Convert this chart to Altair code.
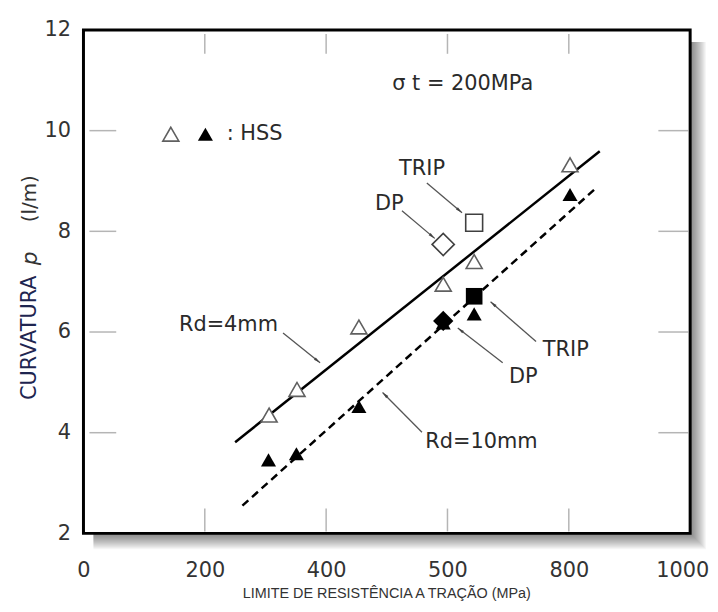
import math
import altair as alt
import pandas as pd

# ---------------- data ----------------
# HSS, Rd = 4 mm (open triangles)
open_tri_x = [306, 352, 454, 593, 644, 802]
open_tri_y = [4.35, 4.86, 6.10, 6.95, 7.40, 9.32]
# HSS, Rd = 10 mm (filled triangles)
filled_tri_x = [305, 351, 454, 593, 644, 802]
filled_tri_y = [3.46, 3.58, 4.52, 6.18, 6.36, 8.73]
# DP / TRIP, Rd = 4 mm (open) and Rd = 10 mm (filled)
dp_open = (593, 7.74)
trip_open = (644, 8.17)
dp_filled = (593, 6.22)
trip_filled = (644, 6.71)
# fitted lines
rd4_x = [250, 851]
rd4_y = [3.81, 9.59]
rd10_x = [262, 843]
rd10_y = [2.55, 8.84]

# annotations: label, text position, arrow start, arrow end
ann_labels = ["TRIP", "DP", "Rd=4mm", "TRIP", "DP", "Rd=10mm"]
ann_text_x = [558, 504, 239, 795, 725, 656]
ann_text_y = [9.24, 8.55, 6.14, 5.65, 5.10, 3.81]
arr_x1 = [566, 525, 329, 746, 691, 558]
arr_y1 = [8.96, 8.41, 5.98, 5.81, 5.39, 4.01]
arr_x2 = [624, 579, 390, 671, 617, 493]
arr_y2 = [8.37, 7.86, 5.39, 6.60, 6.08, 4.80]

x_tick_values = [0, 200, 400, 600, 800, 1000]
x_tick_labels = ["0", "200", "400", "500", "800", "1000"]
y_tick_values = [2, 4, 6, 8, 10, 12]
inner_x_ticks = [200, 400, 600, 800]
inner_y_ticks = [4, 6, 8, 10]

x_title = "LIMITE DE RESISTÊNCIA A TRAÇÃO (MPa)"
y_title_parts = ["CURVATURA", "p", "(l/m)"]
sigma_text = "σ t = 200MPa"
hss_text = ": HSS"

# ---------------- chart ----------------
W, H = 611, 507
X_DOM, Y_DOM = [0, 1000], [2, 12]
FONT = "DejaVu Sans"
TXT = "#2a2a2a"

xs = alt.Scale(domain=X_DOM, nice=False, zero=False)
ys = alt.Scale(domain=Y_DOM, nice=False, zero=False)

label_expr = " : ".join(
    f"datum.value == {v} ? '{l}'" for v, l in zip(x_tick_values, x_tick_labels)
) + " : datum.label"

x_axis = alt.Axis(values=x_tick_values, labelExpr=label_expr, domain=False, ticks=False,
                  grid=False, title=None, labelFont=FONT, labelFontSize=21,
                  labelColor="#333333", labelPadding=26, labelFlush=False, labelBound=False,
                  labelOverlap=False,
                  labelOffset={"condition": {"test": "datum.value == 1000", "value": -8}, "value": 0})
y_axis = alt.Axis(values=y_tick_values, domain=False, ticks=False, grid=False, title=None,
                  labelFont=FONT, labelFontSize=21, labelColor="#333333", labelPadding=13,
                  labelFlush=False, labelOverlap=False)

def X(f):
    return alt.X(f, type="quantitative", scale=xs, axis=x_axis)

def Y(f):
    return alt.Y(f, type="quantitative", scale=ys, axis=y_axis)

one = pd.DataFrame({"d": [0]})
layers = []

# drop shadow of the frame
for k in range(1, 17):
    layers.append(alt.Chart(one).mark_rect(color="black", opacity=0.035).encode(
        x=alt.value(10), x2=alt.value(W + k), y=alt.value(12), y2=alt.value(H + k)))
# white plot area
layers.append(alt.Chart(one).mark_rect(color="white").encode(
    x=alt.value(0), x2=alt.value(W), y=alt.value(0), y2=alt.value(H)))

# inward ticks
ytk = pd.DataFrame({"y": inner_y_ticks})
xtk = pd.DataFrame({"x": inner_x_ticks})
tick_style = dict(color="#b5b5b5", strokeWidth=1.5)
layers.append(alt.Chart(ytk).mark_rule(**tick_style).encode(y=Y("y"), x=alt.value(6), x2=alt.value(33)))
layers.append(alt.Chart(ytk).mark_rule(**tick_style).encode(y=Y("y"), x=alt.value(579), x2=alt.value(609)))
layers.append(alt.Chart(xtk).mark_rule(**tick_style).encode(x=X("x"), y=alt.value(4), y2=alt.value(24)))
layers.append(alt.Chart(xtk).mark_rule(**tick_style).encode(x=X("x"), y=alt.value(482), y2=alt.value(505)))

# fitted lines
l4 = pd.DataFrame({"x": rd4_x, "y": rd4_y})
l10 = pd.DataFrame({"x": rd10_x, "y": rd10_y})
layers.append(alt.Chart(l4).mark_line(color="black", strokeWidth=2.5).encode(x=X("x"), y=Y("y")))
layers.append(alt.Chart(l10).mark_line(color="black", strokeWidth=2.5, strokeDash=[8, 5]).encode(x=X("x"), y=Y("y")))

# arrows
sx = W / (X_DOM[1] - X_DOM[0])
sy = H / (Y_DOM[1] - Y_DOM[0])
angs = []
for a, b, c, d in zip(arr_x1, arr_y1, arr_x2, arr_y2):
    dx = (c - a) * sx
    dy = -(d - b) * sy
    angs.append(math.degrees(math.atan2(dx, -dy)) % 360)
arr = pd.DataFrame({"x1": arr_x1, "y1": arr_y1, "x2": arr_x2, "y2": arr_y2, "ang": angs})
layers.append(alt.Chart(arr).mark_rule(color="#555555", strokeWidth=1.3).encode(
    x=X("x1"), y=Y("y1"), x2="x2", y2="y2"))
layers.append(alt.Chart(arr).mark_point(shape="M0,0L-0.45,2L0.45,2Z", filled=True, color="#444444",
                                        size=45, opacity=1).encode(
    x=X("x2"), y=Y("y2"), angle=alt.Angle("ang:Q", scale=None)))

# data points
ot = pd.DataFrame({"x": open_tri_x, "y": open_tri_y})
ft = pd.DataFrame({"x": filled_tri_x, "y": filled_tri_y})
layers.append(alt.Chart(ft).mark_point(shape="triangle-up", filled=True, color="black", size=230,
                                       opacity=1).encode(x=X("x"), y=Y("y")))
layers.append(alt.Chart(ot).mark_point(shape="triangle-up", fill="white", stroke="#606060",
                                       strokeWidth=1.6, size=260, opacity=1, fillOpacity=1).encode(
    x=X("x"), y=Y("y")))
od = pd.DataFrame({"x": [dp_open[0]], "y": [dp_open[1]]})
os_ = pd.DataFrame({"x": [trip_open[0]], "y": [trip_open[1]]})
fd = pd.DataFrame({"x": [dp_filled[0]], "y": [dp_filled[1]]})
fs = pd.DataFrame({"x": [trip_filled[0]], "y": [trip_filled[1]]})
layers.append(alt.Chart(od).mark_point(shape="diamond", fill="white", stroke="#404040", strokeWidth=1.6,
                                       size=500, opacity=1, fillOpacity=1).encode(x=X("x"), y=Y("y")))
layers.append(alt.Chart(os_).mark_point(shape="square", fill="white", stroke="#404040", strokeWidth=1.6,
                                        size=290, opacity=1, fillOpacity=1).encode(x=X("x"), y=Y("y")))
layers.append(alt.Chart(fd).mark_point(shape="diamond", filled=True, color="black", size=420,
                                       opacity=1).encode(x=X("x"), y=Y("y")))
layers.append(alt.Chart(fs).mark_point(shape="square", filled=True, color="black", size=280,
                                       opacity=1).encode(x=X("x"), y=Y("y")))

# annotation labels
ann = pd.DataFrame({"x": ann_text_x, "y": ann_text_y, "t": ann_labels})
layers.append(alt.Chart(ann).mark_text(font=FONT, fontSize=21, color=TXT).encode(
    x=X("x"), y=Y("y"), text="t:N"))

# sigma note
layers.append(alt.Chart(pd.DataFrame({"x": [509], "y": [10.93], "t": [sigma_text]})).mark_text(
    font=FONT, fontSize=21, color=TXT, align="left").encode(x=X("x"), y=Y("y"), text="t:N"))

# HSS key
layers.append(alt.Chart(pd.DataFrame({"x": [144], "y": [9.93]})).mark_point(
    shape="triangle-up", fill="white", stroke="#606060", strokeWidth=1.6, size=260, opacity=1,
    fillOpacity=1).encode(x=X("x"), y=Y("y")))
layers.append(alt.Chart(pd.DataFrame({"x": [201], "y": [9.93]})).mark_point(
    shape="triangle-up", filled=True, color="black", size=230, opacity=1).encode(x=X("x"), y=Y("y")))
layers.append(alt.Chart(pd.DataFrame({"x": [236], "y": [9.93], "t": [hss_text]})).mark_text(
    font=FONT, fontSize=21, color=TXT, align="left").encode(x=X("x"), y=Y("y"), text="t:N"))

# frame
layers.append(alt.Chart(one).mark_rect(fill="white", fillOpacity=0, stroke="black", strokeWidth=3).encode(
    x=alt.value(0), x2=alt.value(W), y=alt.value(0), y2=alt.value(H)))

# axis titles
layers.append(alt.Chart(pd.DataFrame({"t": [x_title]})).mark_text(
    font="Liberation Sans", fontSize=14.5, color="#333333").encode(
    x=alt.value(W / 2), y=alt.value(568), text="t:N"))
layers.append(alt.Chart(pd.DataFrame({"t": [y_title_parts[0]]})).mark_text(
    font=FONT, fontSize=21, color="#1e2550", angle=270).encode(
    x=alt.value(-54), y=alt.value(310), text="t:N"))
layers.append(alt.Chart(pd.DataFrame({"t": [y_title_parts[1]]})).mark_text(
    font=FONT, fontSize=22, fontStyle="italic", color="#333333", angle=270).encode(
    x=alt.value(-54), y=alt.value(230), text="t:N"))
layers.append(alt.Chart(pd.DataFrame({"t": [y_title_parts[2]]})).mark_text(
    font=FONT, fontSize=20, color="#333333", angle=270).encode(
    x=alt.value(-54), y=alt.value(170), text="t:N"))

chart = alt.layer(*layers).properties(
    width=W, height=H,
    autosize=alt.AutoSizeParams(type="none"),
    padding={"left": 76, "top": 20, "right": 20, "bottom": 69},
    background="white",
).configure_view(stroke=None)

chart.save("out.html", embed_options={"renderer": "svg", "actions": False})
